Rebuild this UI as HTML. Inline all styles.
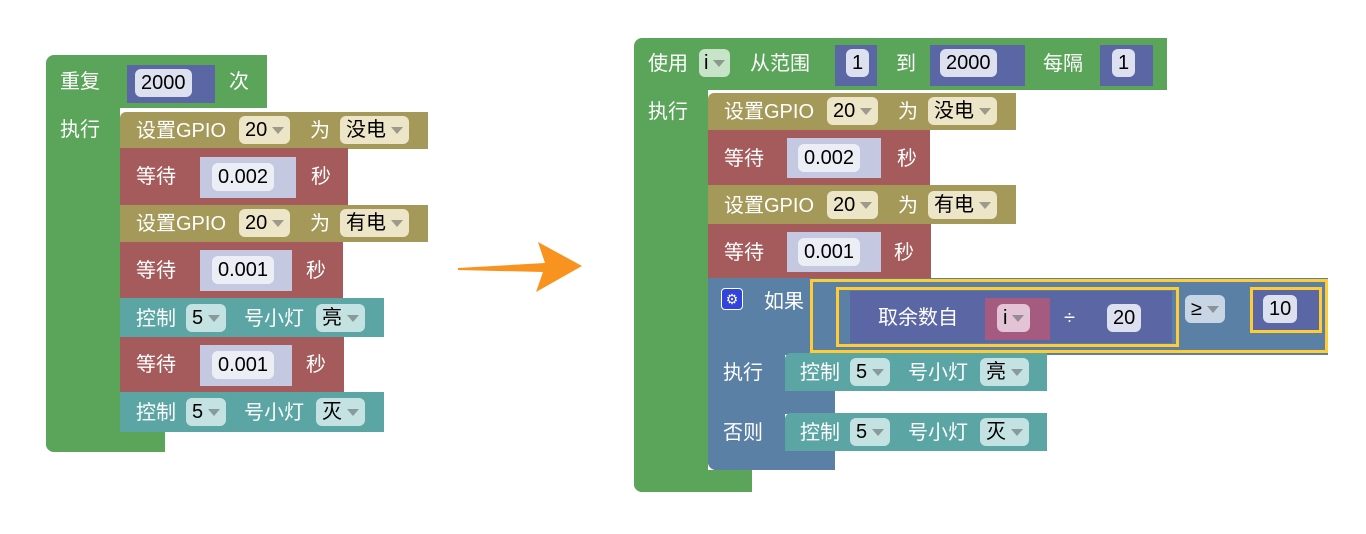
<!DOCTYPE html>
<html><head><meta charset="utf-8"><style>
body{margin:0;width:1366px;height:534px;background:#fff;position:relative;overflow:hidden;font-family:"Liberation Sans","Noto Sans CJK SC",sans-serif;}
.b{position:absolute;box-sizing:border-box;}
.t{position:absolute;color:#fff;font-size:20px;line-height:26px;white-space:nowrap;}
.f{position:absolute;box-sizing:border-box;border-radius:6px;color:#000;font-size:20px;line-height:28px;height:28px;padding:0 6px;white-space:nowrap;}
.dd::after{content:"";display:inline-block;margin-left:5px;vertical-align:middle;border-left:6px solid transparent;border-right:6px solid transparent;border-top:7px solid rgba(80,80,80,.5);}
.g{background:#5ba55b}.o{background:#a5995a}.r{background:#a55b5b}.c{background:#5ba5a5}.v{background:#5b67a5}.i{background:#5b80a5}.p{background:#a55b80}
.fo{background:#ede5c7}.fc{background:#c4e2e2}.fv{background:#dde0ee}.fg{background:#c8e4c8}.fp{background:#e3c4d4}.fi{background:#c4d2e2}
</style></head><body>
<!-- LEFT -->
<div class="b g" style="left:46px;top:55px;width:221px;height:53px;border-radius:8px 0 0 0"></div>
<div class="b g" style="left:46px;top:100px;width:74px;height:352px;border-radius:0 0 0 8px"></div>
<div class="b g" style="left:46px;top:432px;width:119px;height:20px;border-radius:0 0 0 8px"></div>
<div class="t" style="left:60px;top:69px">重复</div>
<div class="b v" style="left:127px;top:65px;width:88px;height:38px"></div>
<div class="f fv" style="left:135px;top:69px">2000</div>
<div class="t" style="left:229px;top:69px">次</div>
<div class="t" style="left:60px;top:117px">执行</div>

<div class="b o" style="left:120px;top:112px;width:308px;height:37px;border-radius:6px 0 0 0"></div>
<div class="t" style="left:136px;top:118px">设置GPIO</div>
<div class="f fo dd" style="left:239px;top:116px">20</div>
<div class="t" style="left:310px;top:118px">为</div>
<div class="f fo dd" style="left:340px;top:116px">没电</div>

<div class="b r" style="left:120px;top:148px;width:228px;height:57px"></div>
<div class="t" style="left:136px;top:164px">等待</div>
<div class="b" style="left:200px;top:157px;width:96px;height:41px;background:#c4c8e0"></div>
<div class="f fv" style="left:212px;top:163px;background:#eceef6">0.002</div>
<div class="t" style="left:311px;top:164px">秒</div>

<div class="b o" style="left:120px;top:205px;width:308px;height:37px"></div>
<div class="t" style="left:136px;top:211px">设置GPIO</div>
<div class="f fo dd" style="left:239px;top:209px">20</div>
<div class="t" style="left:310px;top:211px">为</div>
<div class="f fo dd" style="left:340px;top:209px">有电</div>

<div class="b r" style="left:120px;top:242px;width:223px;height:56px"></div>
<div class="t" style="left:136px;top:258px">等待</div>
<div class="b" style="left:200px;top:250px;width:92px;height:41px;background:#c4c8e0"></div>
<div class="f fv" style="left:212px;top:256px;background:#eceef6">0.001</div>
<div class="t" style="left:306px;top:258px">秒</div>

<div class="b c" style="left:120px;top:298px;width:264px;height:39px"></div>
<div class="t" style="left:136px;top:306px">控制</div>
<div class="f fc dd" style="left:186px;top:304px">5</div>
<div class="t" style="left:244px;top:306px">号小灯</div>
<div class="f fc dd" style="left:316px;top:304px">亮</div>

<div class="b r" style="left:120px;top:337px;width:224px;height:55px"></div>
<div class="t" style="left:136px;top:352px">等待</div>
<div class="b" style="left:200px;top:345px;width:92px;height:41px;background:#c4c8e0"></div>
<div class="f fv" style="left:212px;top:351px;background:#eceef6">0.001</div>
<div class="t" style="left:306px;top:352px">秒</div>

<div class="b c" style="left:120px;top:392px;width:264px;height:40px"></div>
<div class="t" style="left:136px;top:400px">控制</div>
<div class="f fc dd" style="left:186px;top:398px">5</div>
<div class="t" style="left:244px;top:400px">号小灯</div>
<div class="f fc dd" style="left:316px;top:398px">灭</div>

<!-- ARROW -->
<svg class="b" style="left:450px;top:230px" width="140" height="70"><path d="M8 38 L95 33 L88 12 L132 36 L86 62 L93 42 L8 40 Z" fill="#f7931e"/></svg>

<!-- RIGHT -->
<div class="b g" style="left:634px;top:38px;width:533px;height:52px;border-radius:8px 0 0 0"></div>
<div class="b g" style="left:634px;top:85px;width:74px;height:407px;border-radius:0 0 0 8px"></div>
<div class="b g" style="left:634px;top:470px;width:118px;height:22px;border-radius:0 0 0 8px"></div>
<div class="t" style="left:648px;top:51px">使用</div>
<div class="f fg dd" style="left:699px;top:49px;padding:0 5px">i</div>
<div class="t" style="left:750px;top:51px">从范围</div>
<div class="b v" style="left:835px;top:45px;width:42px;height:41px"></div>
<div class="f fv" style="left:846px;top:49px">1</div>
<div class="t" style="left:896px;top:51px">到</div>
<div class="b v" style="left:930px;top:45px;width:95px;height:41px"></div>
<div class="f fv" style="left:940px;top:49px">2000</div>
<div class="t" style="left:1043px;top:51px">每隔</div>
<div class="b v" style="left:1100px;top:45px;width:53px;height:41px"></div>
<div class="f fv" style="left:1112px;top:49px">1</div>
<div class="t" style="left:648px;top:99px">执行</div>

<div class="b o" style="left:708px;top:93px;width:308px;height:37px;border-radius:6px 0 0 0"></div>
<div class="t" style="left:724px;top:99px">设置GPIO</div>
<div class="f fo dd" style="left:827px;top:97px">20</div>
<div class="t" style="left:898px;top:99px">为</div>
<div class="f fo dd" style="left:928px;top:97px">没电</div>

<div class="b r" style="left:708px;top:130px;width:222px;height:55px"></div>
<div class="t" style="left:724px;top:146px">等待</div>
<div class="b" style="left:787px;top:138px;width:94px;height:40px;background:#c4c8e0"></div>
<div class="f fv" style="left:798px;top:144px;background:#eceef6">0.002</div>
<div class="t" style="left:897px;top:146px">秒</div>

<div class="b o" style="left:708px;top:185px;width:308px;height:39px"></div>
<div class="t" style="left:724px;top:193px">设置GPIO</div>
<div class="f fo dd" style="left:827px;top:191px">20</div>
<div class="t" style="left:898px;top:193px">为</div>
<div class="f fo dd" style="left:928px;top:191px">有电</div>

<div class="b r" style="left:708px;top:224px;width:223px;height:54px"></div>
<div class="t" style="left:724px;top:240px">等待</div>
<div class="b" style="left:787px;top:232px;width:94px;height:40px;background:#c4c8e0"></div>
<div class="f fv" style="left:798px;top:238px;background:#eceef6">0.001</div>
<div class="t" style="left:894px;top:240px">秒</div>

<div class="b i" style="left:708px;top:278px;width:620px;height:77px"></div>
<div class="b i" style="left:708px;top:350px;width:77px;height:120px;border-radius:0 0 0 8px"></div>
<div class="b i" style="left:708px;top:390px;width:127px;height:24px"></div>
<div class="b i" style="left:708px;top:450px;width:127px;height:20px;border-radius:0 0 0 8px"></div>
<div class="b" style="left:721px;top:288px;width:22px;height:22px;background:#3344dd;border-radius:4px;border:1px solid #fff;color:#fff;font-size:14px;line-height:20px;text-align:center">⚙</div>
<div class="t" style="left:764px;top:289px">如果</div>
<div class="b" style="left:810px;top:279px;width:518px;height:74px;border:3px solid #fc3;background:#5b80a5"></div>
<div class="b" style="left:836px;top:287px;width:343px;height:60px;border:3px solid #fc3"></div>
<div class="b v" style="left:850px;top:291px;width:322px;height:52px"></div>
<div class="t" style="left:878px;top:305px">取余数自</div>
<div class="b p" style="left:985px;top:298px;width:65px;height:42px"></div>
<div class="f fp dd" style="left:997px;top:304px;color:#000;background:#e3c4d6">i</div>
<div class="t" style="left:1064px;top:305px">÷</div>
<div class="b v" style="left:1097px;top:298px;width:65px;height:42px"></div>
<div class="f fv" style="left:1107px;top:304px">20</div>
<div class="f fi dd" style="left:1185px;top:295px;background:#c8d5e4">≥</div>
<div class="b" style="left:1250px;top:287px;width:72px;height:46px;border:3px solid #fc3;background:#5b67a5"></div>
<div class="f fv" style="left:1263px;top:295px">10</div>

<div class="t" style="left:723px;top:360px">执行</div>
<div class="b c" style="left:785px;top:353px;width:262px;height:38px;border-radius:6px 0 0 0"></div>
<div class="t" style="left:800px;top:360px">控制</div>
<div class="f fc dd" style="left:850px;top:358px">5</div>
<div class="t" style="left:908px;top:360px">号小灯</div>
<div class="f fc dd" style="left:980px;top:358px">亮</div>

<div class="t" style="left:723px;top:420px">否则</div>
<div class="b c" style="left:785px;top:413px;width:262px;height:38px;border-radius:6px 0 0 0"></div>
<div class="t" style="left:800px;top:420px">控制</div>
<div class="f fc dd" style="left:850px;top:418px">5</div>
<div class="t" style="left:908px;top:420px">号小灯</div>
<div class="f fc dd" style="left:980px;top:418px">灭</div>
</body></html>
